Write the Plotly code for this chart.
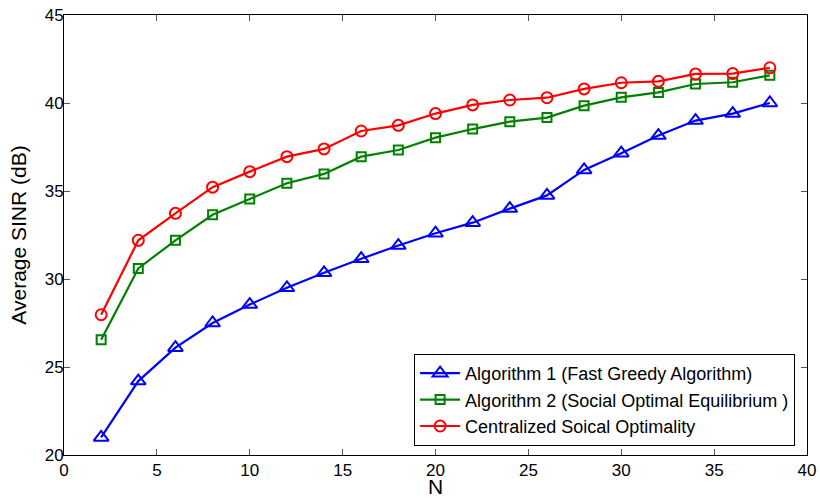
import plotly.graph_objects as go

N = [2, 4, 6, 8, 10, 12, 14, 16, 18, 20, 22, 24, 26, 28, 30, 32, 34, 36, 38]
alg1 = [21.0, 24.2, 26.1, 27.5, 28.55, 29.5, 30.35, 31.15, 31.9, 32.6, 33.2, 34.0, 34.75,
        36.2, 37.15, 38.15, 39.0, 39.4, 40.0]
alg2 = [26.55, 30.6, 32.2, 33.65, 34.55, 35.44, 35.97, 36.95, 37.33, 38.03, 38.52, 38.94,
        39.17, 39.85, 40.32, 40.6, 41.08, 41.18, 41.57]
central = [27.97, 32.2, 33.73, 35.22, 36.1, 36.95, 37.39, 38.41, 38.73, 39.4, 39.89, 40.17,
           40.3, 40.8, 41.15, 41.23, 41.65, 41.67, 42.0]

names = ["Algorithm 1 (Fast Greedy Algorithm)",
         "Algorithm 2 (Social Optimal Equilibrium )",
         "Centralized Soical Optimality"]

FONT = "Liberation Sans, Arial, sans-serif"

fig = go.Figure()
fig.add_trace(go.Scatter(x=N, y=alg1, name=names[0], mode="lines+markers",
                         line=dict(color="#0000FF", width=2.2),
                         marker=dict(symbol="triangle-up-open", size=13, color="#0000FF",
                                     line=dict(width=2, color="#0000FF"))))
fig.add_trace(go.Scatter(x=N, y=alg2, name=names[1], mode="lines+markers",
                         line=dict(color="#008000", width=2.2),
                         marker=dict(symbol="square-open", size=9, color="#008000",
                                     line=dict(width=2, color="#008000"))))
fig.add_trace(go.Scatter(x=N, y=central, name=names[2], mode="lines+markers",
                         line=dict(color="#FF0000", width=2.2),
                         marker=dict(symbol="circle-open", size=11, color="#FF0000",
                                     line=dict(width=2, color="#FF0000"))))

axis_common = dict(showgrid=False, zeroline=False, showline=True, linecolor="black",
                   linewidth=1, mirror="ticks", ticks="inside", ticklen=6,
                   tickcolor="#555555", automargin=False,
                   tickfont=dict(family=FONT, size=17, color="black"))

fig.update_layout(
    width=820, height=498,
    margin=dict(l=64, r=13, t=15, b=43),
    paper_bgcolor="white", plot_bgcolor="white",
    font=dict(family=FONT, size=17, color="black"),
    xaxis=dict(range=[0, 40], dtick=5, title=dict(text="N", font=dict(size=21), standoff=3),
               **axis_common),
    yaxis=dict(range=[20, 45], dtick=5, ticklabelstandoff=-4,
               title=dict(text="Average SINR (dB)", font=dict(size=21), standoff=12),
               **axis_common),
    legend=dict(x=0.984, y=0.2295, xanchor="right", yanchor="top",
                bgcolor="white", bordercolor="black", borderwidth=1,
                font=dict(family=FONT, size=18), tracegroupgap=0, itemwidth=40),
    showlegend=True,
)

# remove the browser's default 8px page margin so the figure fills the window exactly
fig.write_html("out.html", config={"displayModeBar": False},
               post_script="document.body.style.margin='0';document.body.style.overflow='hidden';")
